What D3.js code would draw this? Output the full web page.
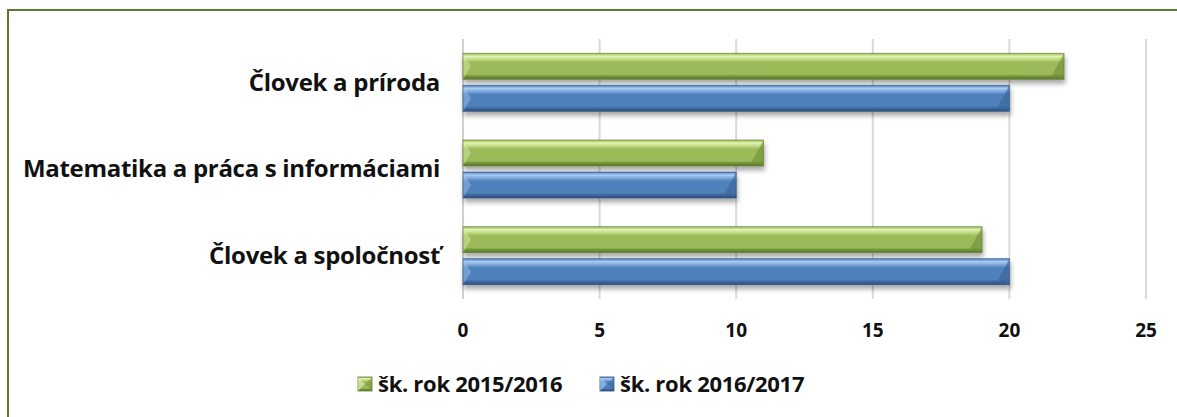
<!DOCTYPE html>
<html>
<head>
<meta charset="utf-8">
<script src="https://cdn.jsdelivr.net/npm/d3@7"></script>
<style>
  html, body { margin: 0; padding: 0; background: #fff; }
  svg { display: block; font-family: "Open Sans", Lato, sans-serif; }
</style>
</head>
<body>
<svg id="chart" width="1177" height="417"></svg>
<script>
// data
const categories = ["Človek a príroda", "Matematika a práca s informáciami", "Človek a spoločnosť"];
const seriesNames = ["šk. rok 2015/2016", "šk. rok 2016/2017"];
const values2015 = [22, 11, 19];
const values2016 = [20, 10, 20];
const xTicks = [0, 5, 10, 15, 20, 25];

const svg = d3.select("#chart");
const W = 1177, H = 417;

const colors = [
  { light: "#e2f5b0", mid: "#9bbb59", dark: "#6f8c37", edge: "#5d7a2b" },
  { light: "#a9cdf5", mid: "#4f81bd", dark: "#3a6496", edge: "#2c4f7c" }
];

const defs = svg.append("defs");
colors.forEach((c, i) => {
  const g = defs.append("linearGradient").attr("id", "grad" + i)
    .attr("x1", 0).attr("y1", 0).attr("x2", 0).attr("y2", 1);
  g.append("stop").attr("offset", "0").attr("stop-color", c.mid);
  g.append("stop").attr("offset", "0.12").attr("stop-color", c.light);
  g.append("stop").attr("offset", "0.35").attr("stop-color", c.mid);
  g.append("stop").attr("offset", "0.8").attr("stop-color", c.mid);
  g.append("stop").attr("offset", "0.9").attr("stop-color", c.dark);
  g.append("stop").attr("offset", "1").attr("stop-color", c.edge);
});
const shadow = defs.append("filter").attr("id", "shadow")
  .attr("x", "-5%").attr("y", "-30%").attr("width", "110%").attr("height", "180%");
shadow.append("feGaussianBlur").attr("in", "SourceAlpha").attr("stdDeviation", 2.5);
shadow.append("feOffset").attr("dx", 1).attr("dy", 4).attr("result", "ob");
shadow.append("feComponentTransfer").append("feFuncA").attr("type", "linear").attr("slope", 0.35);
const merge = shadow.append("feMerge");
merge.append("feMergeNode");
merge.append("feMergeNode").attr("in", "SourceGraphic");

// frame
svg.append("rect")
  .attr("x", 8).attr("y", 10).attr("width", W + 20).attr("height", H + 20)
  .attr("fill", "none").attr("stroke", "#5b7a2c").attr("stroke-width", 2);

const x = d3.scaleLinear().domain([0, 25]).range([463, 1146]);
const y = d3.scaleBand().domain(categories).range([39, 299]);
const barH = 26, gap = 6;

// gridlines
svg.append("g").selectAll("line").data(xTicks.slice(1)).join("line")
  .attr("x1", d => x(d)).attr("x2", d => x(d))
  .attr("y1", 39).attr("y2", 299)
  .attr("stroke", "#d9d9d9").attr("stroke-width", 2);

// axis line
svg.append("line").attr("x1", x(0)).attr("x2", x(0)).attr("y1", 39).attr("y2", 299)
  .attr("stroke", "#d0d0d0").attr("stroke-width", 2);

// bars
const series = [values2015, values2016];
series.forEach((vals, si) => {
  const c = colors[si];
  const grp = svg.append("g").attr("filter", "url(#shadow)");
  categories.forEach((cat, ci) => {
    const top = y(cat) + y.bandwidth() / 2 - barH - gap / 2 + si * (barH + gap);
    const x0 = x(0), x1 = x(vals[ci]);
    grp.append("rect").attr("x", x0).attr("y", top).attr("width", x1 - x0).attr("height", barH)
      .attr("fill", `url(#grad${si})`);
    // bevel ends
    grp.append("path")
      .attr("d", `M${x1 - 12},${top + barH - 4} L${x1},${top} L${x1},${top + barH} Z`)
      .attr("fill", c.dark).attr("opacity", 0.6);
    grp.append("path")
      .attr("d", `M${x0},${top} L${x0 + 8},${top + barH / 2} L${x0},${top + barH} Z`)
      .attr("fill", c.light).attr("opacity", 0.4);
    grp.append("rect").attr("x", x0).attr("y", top).attr("width", x1 - x0).attr("height", barH)
      .attr("fill", "none").attr("stroke", c.edge).attr("stroke-width", 1).attr("stroke-opacity", 0.6);
  });
});

// category labels
svg.append("g").selectAll("text").data(categories).join("text")
  .attr("x", 440).attr("y", d => y(d) + y.bandwidth() / 2)
  .attr("dy", "0.35em").attr("text-anchor", "end")
  .attr("font-size", 24).attr("font-weight", "bold").attr("fill", "#111")
  .attr("letter-spacing", -0.3)
  .text(d => d);

// x tick labels
svg.append("g").selectAll("text").data(xTicks).join("text")
  .attr("x", d => x(d)).attr("y", 337)
  .attr("text-anchor", "middle").attr("font-size", 19).attr("font-weight", "bold").attr("fill", "#111")
  .text(d => d);

// legend
const legendX = [358, 600];
seriesNames.forEach((name, i) => {
  const c = colors[i];
  const lg = svg.append("g").attr("transform", `translate(${legendX[i]},377)`);
  lg.append("rect").attr("width", 14).attr("height", 14).attr("fill", `url(#grad${i})`)
    .attr("stroke", c.edge).attr("stroke-width", 0.8);
  lg.append("path").attr("d", "M0,0 L7,7 L0,14 Z").attr("fill", c.light).attr("opacity", 0.6);
  lg.append("path").attr("d", "M14,0 L7,7 L14,14 Z").attr("fill", c.dark).attr("opacity", 0.5);
  lg.append("text").attr("x", 20).attr("y", 7).attr("dy", "0.35em")
    .attr("font-size", 22).attr("font-weight", "bold").attr("fill", "#111")
    .attr("letter-spacing", -0.3).text(name);
});
</script>
</body>
</html>
